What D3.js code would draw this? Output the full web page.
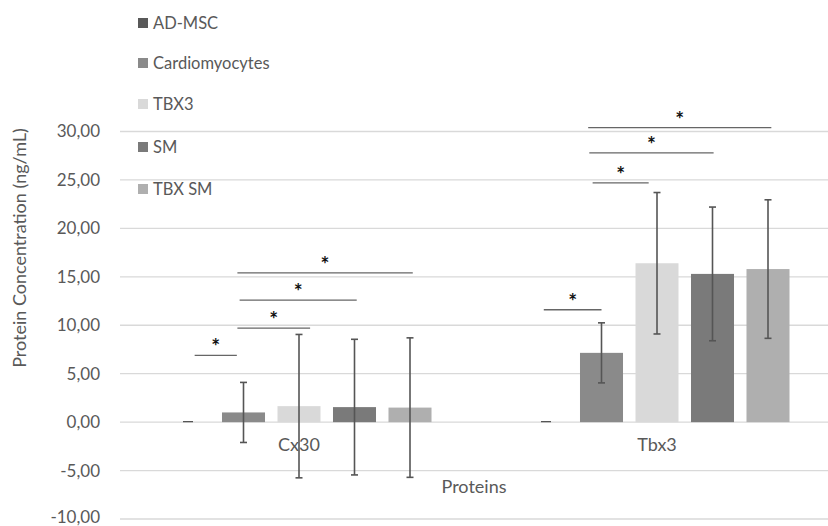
<!DOCTYPE html>
<html>
<head>
<meta charset="utf-8">
<script src="https://cdn.jsdelivr.net/npm/d3@7"></script>
<style>
  html, body { margin: 0; padding: 0; background: #fff; }
  svg { display: block; font-family: Lato, "Open Sans", sans-serif; }
</style>
</head>
<body>
<svg id="chart" width="828" height="526"></svg>
<script>
// ---- data ----
const categories = ["Cx30", "Tbx3"];
const seriesNames = ["AD-MSC", "Cardiomyocytes", "TBX3", "SM", "TBX SM"];
const seriesColors = ["#595959", "#8a8a8a", "#d9d9d9", "#7a7a7a", "#afafaf"];
const meanCx30 = [0.0, 1.0, 1.65, 1.55, 1.5];
const meanTbx3 = [0.0, 7.15, 16.4, 15.3, 15.8];
const sdCx30 = [0.0, 3.1, 7.4, 7.0, 7.2];
const sdTbx3 = [0.0, 3.1, 7.3, 6.9, 7.15];
const yTicks = [-10, -5, 0, 5, 10, 15, 20, 25, 30];
// significance brackets: category, start/end in bar-index units, y level (data units)
const sigCategory = ["Cx30", "Cx30", "Cx30", "Cx30", "Tbx3", "Tbx3", "Tbx3", "Tbx3"];
const sigStart = [0.12, 0.89, 0.93, 0.89, -0.04, 0.84, 0.78, 0.76];
const sigEnd = [0.88, 2.2, 3.04, 4.05, 1.0, 1.85, 3.02, 4.06];
const sigLevel = [6.9, 9.7, 12.6, 15.4, 11.6, 24.7, 27.8, 30.4];

const rows = [];
categories.forEach((c, ci) => {
  const means = ci === 0 ? meanCx30 : meanTbx3;
  const sds = ci === 0 ? sdCx30 : sdTbx3;
  seriesNames.forEach((s, si) => rows.push({cat: c, series: s, si, mean: means[si], sd: sds[si]}));
});

// ---- layout ----
const svg = d3.select("#chart");
const plotLeft = 120, plotRight = 836, yTop = 131.5, yBottom = 519;
const y = d3.scaleLinear().domain([-10, 30]).range([yBottom, yTop]);
const x0 = d3.scaleBand().domain(categories).range([plotLeft, plotRight]).padding(0);
const x1 = d3.scaleBand().domain(seriesNames).range([40.25, 317.75]).paddingInner(0.225).paddingOuter(0.1125);
const step = x1.step();
const barCenter = (cat, idx) => x0(cat) + x1(seriesNames[0]) + x1.bandwidth() / 2 + idx * step;

const textColor = "#595959";

// gridlines
svg.append("g").selectAll("line").data(yTicks).join("line")
  .attr("x1", plotLeft).attr("x2", plotRight)
  .attr("y1", d => y(d)).attr("y2", d => y(d))
  .attr("stroke", "#d9d9d9").attr("stroke-width", 1.3);

// y axis labels
const yAxis = d3.axisLeft(y).tickValues(yTicks).tickSize(0).tickPadding(0)
  .tickFormat(d => d3.format(".2f")(d).replace(".", ",").replace("\u2212", "-"));
const yg = svg.append("g").attr("transform", `translate(100,0)`).call(yAxis);
yg.select(".domain").remove();
yg.selectAll("text").attr("fill", textColor).style("font-size", "17px").style("font-family", "Lato, sans-serif")
  .attr("dy", d => d === -10 ? "0.2em" : "0.32em");

// bars
svg.append("g").selectAll("rect").data(rows.filter(d => d.mean > 0)).join("rect")
  .attr("x", d => x0(d.cat) + x1(d.series))
  .attr("width", x1.bandwidth())
  .attr("y", d => y(d.mean))
  .attr("height", d => y(0) - y(d.mean))
  .attr("fill", d => seriesColors[d.si]);

// category labels
svg.append("g").selectAll("text").data(categories).join("text")
  .attr("x", d => x0(d) + x0.bandwidth() / 2)
  .attr("y", y(-3.0))
  .attr("text-anchor", "middle")
  .attr("fill", textColor).style("font-size", "18px")
  .text(d => d);

// error bars
const eg = svg.append("g").attr("stroke", "#555555").attr("stroke-width", 1.6);
rows.forEach(d => {
  const cx = barCenter(d.cat, d.si);
  const capW = d.sd === 0 ? 5 : 3.5;
  if (d.sd > 0) {
    eg.append("line").attr("x1", cx).attr("x2", cx).attr("y1", y(d.mean + d.sd)).attr("y2", y(d.mean - d.sd));
    [d.mean + d.sd, d.mean - d.sd].forEach(v => {
      eg.append("line").attr("x1", cx - capW).attr("x2", cx + capW).attr("y1", y(v)).attr("y2", y(v));
    });
  } else {
    eg.append("line").attr("x1", cx - capW).attr("x2", cx + capW).attr("y1", y(d.mean) - 0.5).attr("y2", y(d.mean) - 0.5)
      .attr("stroke-width", 1.3);
  }
});

// significance brackets
const sg = svg.append("g");
sigCategory.forEach((c, i) => {
  const xa = barCenter(c, sigStart[i]);
  const xb = barCenter(c, sigEnd[i]);
  const yy = y(sigLevel[i]);
  sg.append("line").attr("x1", xa).attr("x2", xb).attr("y1", yy).attr("y2", yy)
    .attr("stroke", "#666").attr("stroke-width", 1.3);
  sg.append("text").attr("x", (xa + xb) / 2).attr("y", yy - 1)
    .attr("text-anchor", "middle").attr("fill", "#111")
    .style("font-size", "21px").style("font-weight", "bold").text("*");
});

// axis titles
svg.append("text")
  .attr("transform", `translate(26,248) rotate(-90)`)
  .attr("text-anchor", "middle").attr("fill", textColor).style("font-size", "18px")
  .text("Protein Concentration (ng/mL)");
svg.append("text")
  .attr("x", 474).attr("y", 493)
  .attr("text-anchor", "middle").attr("fill", textColor).style("font-size", "18px")
  .text("Proteins");

// legend
const legendY = [23, 63, 104, 147, 189];
const lg = svg.append("g").selectAll("g").data(seriesNames).join("g")
  .attr("transform", (d, i) => `translate(138,${legendY[i]})`);
lg.append("rect").attr("x", 0).attr("y", -5).attr("width", 10).attr("height", 10)
  .attr("fill", (d, i) => seriesColors[i]);
lg.append("text").attr("x", 15).attr("y", 0).attr("dy", "0.35em")
  .attr("fill", textColor).style("font-size", "16.5px").text(d => d);
</script>
</body>
</html>
